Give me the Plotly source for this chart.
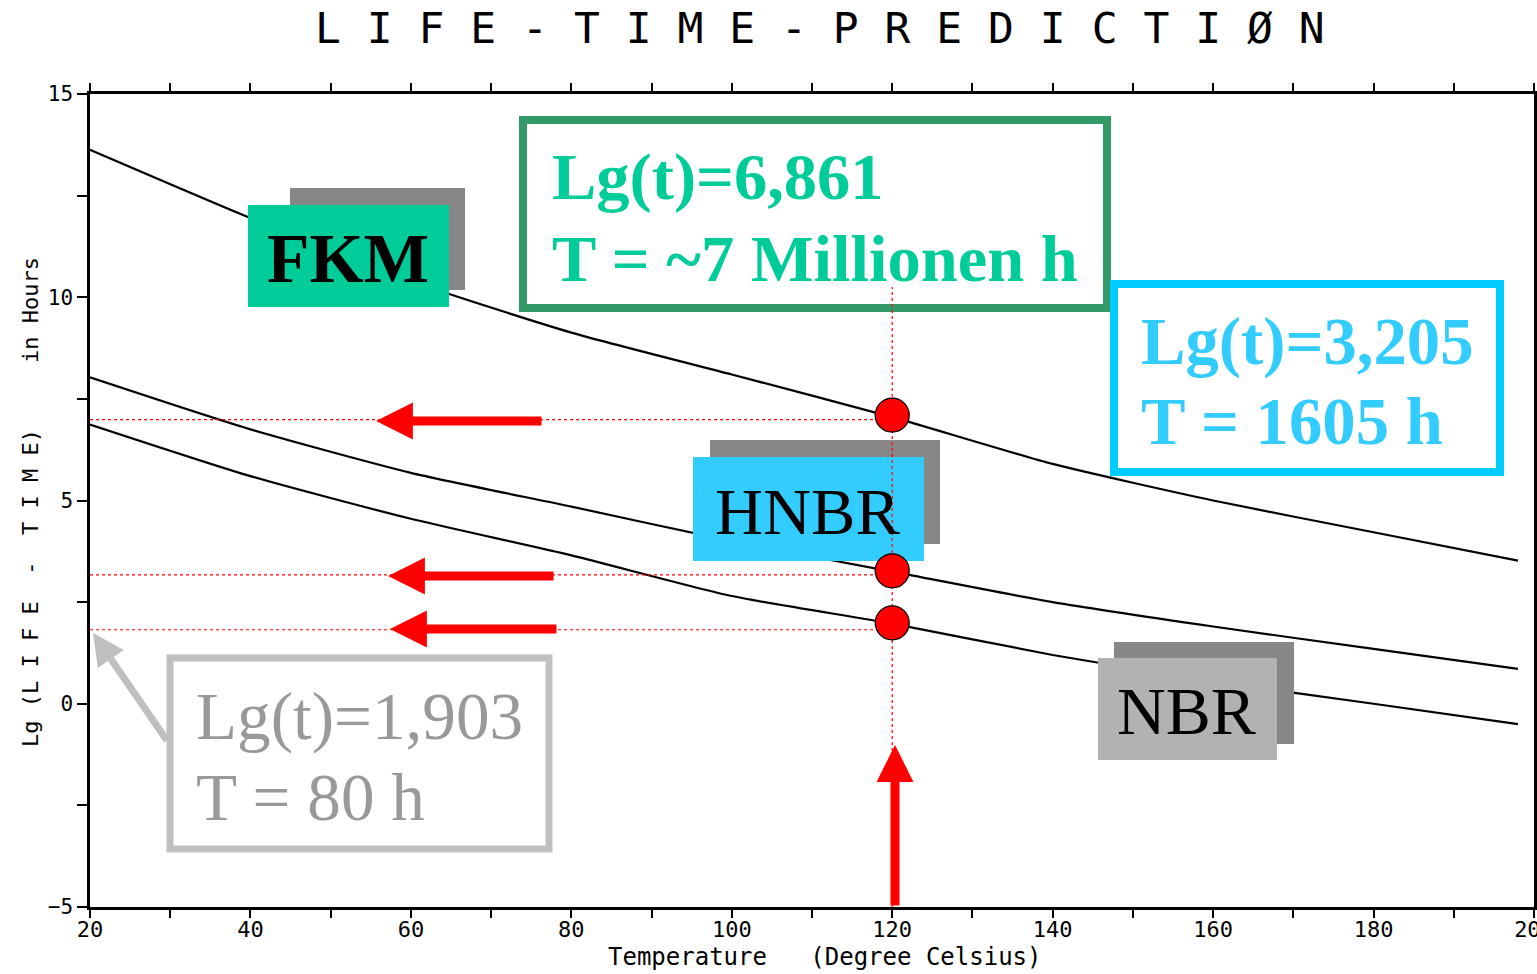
import plotly.graph_objects as go

# ---------------- data ----------------
temperature = [20, 40, 60, 80, 100, 120, 140, 160, 180, 198]
lg_fkm = [13.63, 11.95, 10.40, 9.13, 8.10, 7.05, 5.90, 5.00, 4.22, 3.52]
lg_hnbr = [8.03, 6.75, 5.68, 4.85, 4.00, 3.25, 2.50, 1.90, 1.35, 0.86]
lg_nbr = [6.87, 5.60, 4.55, 3.65, 2.65, 1.97, 1.20, 0.55, 0.00, -0.50]

marked_temperature = 120
marked_dots = [7.10, 3.27, 1.99]        # red dots on the curves at 120 °C
marked_levels = [6.99, 3.17, 1.82]      # dotted guide lines to the y axis

x_tick_vals = list(range(20, 201, 10))
x_tick_text = ["20", "", "40", "", "60", "", "80", "", "100", "", "120", "",
               "140", "", "160", "", "180", "", "200"]
y_tick_vals = [-5, -2.5, 0, 2.5, 5, 7.5, 10, 12.5, 15]
y_tick_text = ["\u22125", "", "0", "", "5", "", "10", "", "15"]

title_text = "L I F E - T I M E - P R E D I C T I \u00d8 N"
x_title = "Temperature   (Degree Celsius)"
y_title = "Lg (L I F E  -  T I M E)     in Hours"

# ---------------- layout helpers (pixel -> axis coords) ----------------
W, H = 1537, 974
L, R, T, B = 90, 1534, 94, 907
X0, X1, Y0, Y1 = 20, 200, -5, 15


def X(px):
    return X0 + (px - L) * (X1 - X0) / (R - L)


def Y(py):
    return Y1 - (py - T) * (Y1 - Y0) / (B - T)


SERIF = "Liberation Serif"
MONO = "DejaVu Sans Mono"

fig = go.Figure()

for ys in (lg_fkm, lg_hnbr, lg_nbr):
    fig.add_trace(go.Scatter(x=temperature, y=ys, mode="lines",
                             line=dict(color="black", width=2.2,
                                       shape="spline", smoothing=0.6),
                             hoverinfo="skip", showlegend=False))

shapes = []


def rect(x0, y0, x1, y1, fill=None, line_color=None, lw=0):
    d = dict(type="rect", xref="x", yref="y", layer="above",
             x0=X(x0), x1=X(x1), y0=Y(y0), y1=Y(y1))
    d["fillcolor"] = fill if fill else "rgba(0,0,0,0)"
    d["line"] = dict(color=line_color, width=lw) if line_color else dict(width=0)
    shapes.append(d)


# label tags with shadow
rect(290, 188, 465, 290, fill="#878787")
rect(248, 205, 449, 307, fill="#00CC99")
rect(710, 440, 940, 544, fill="#878787")
rect(693, 457, 924, 561, fill="#33CCFF")
rect(1114, 642, 1294, 744, fill="#878787")
rect(1098, 658, 1277, 760, fill="#B2B2B2")

# outlined info boxes
rect(523, 120, 1107, 308, line_color="#339966", lw=8)
rect(1114, 284, 1500, 472, line_color="#00CCFF", lw=8)
rect(170, 658, 549, 849, line_color="#C0C0C0", lw=7)

# red dotted guide lines
for lv in marked_levels:
    shapes.append(dict(type="line", xref="x", yref="y", layer="above",
                       x0=X0, x1=marked_temperature, y0=lv, y1=lv,
                       line=dict(color="red", width=1.2, dash="dot")))
shapes.append(dict(type="line", xref="x", yref="y", layer="above",
                   x0=marked_temperature, x1=marked_temperature,
                   y0=Y0, y1=Y(287),
                   line=dict(color="red", width=1.2, dash="dot")))

# red dots
for v in marked_dots:
    shapes.append(dict(type="circle", xref="x", yref="y", layer="above",
                       xsizemode="pixel", ysizemode="pixel",
                       xanchor=marked_temperature, yanchor=v,
                       x0=-17, x1=17, y0=-17, y1=17,
                       fillcolor="red", line=dict(color="black", width=1.3)))

annotations = []


def text(px, py, s, size, color, bold=False, anchor="center"):
    annotations.append(dict(
        x=X(px), y=Y(py), xref="x", yref="y", showarrow=False,
        text=("<b>%s</b>" % s) if bold else s,
        xanchor=anchor, yanchor="middle",
        font=dict(family=SERIF, size=size, color=color)))


text(348, 258, "FKM", 69.5, "black", bold=True)
text(807, 511, "HNBR", 66.5, "black")
text(1186, 711, "NBR", 67.5, "black")

text(550, 177, "Lg(t)=6,861", 66.5, "#00CC99", bold=True, anchor="left")
text(550, 258, "T = ~7 Millionen h", 66.5, "#00CC99", bold=True, anchor="left")
text(1139, 342, "Lg(t)=3,205", 66.7, "#33CCFF", bold=True, anchor="left")
text(1139, 421, "T = 1605 h", 66.7, "#33CCFF", bold=True, anchor="left")
text(194, 716, "Lg(t)=1,903", 67.2, "#999999", anchor="left")
text(194, 797, "T = 80 h", 67.2, "#999999", anchor="left")


def arrow(tip, tail, color, width, size):
    annotations.append(dict(
        x=X(tip[0]), y=Y(tip[1]), ax=X(tail[0]), ay=Y(tail[1]),
        xref="x", yref="y", axref="x", ayref="y", text="",
        showarrow=True, arrowhead=2, arrowsize=size, arrowwidth=width,
        arrowcolor=color, standoff=0))


arrow((376, 421), (543, 421), "red", 9, 0.82)
arrow((388, 576), (555, 576), "red", 9, 0.82)
arrow((390, 629), (558, 629), "red", 9, 0.82)
arrow((895, 745), (895, 907), "red", 9, 0.82)
arrow((93, 633), (168, 742), "#BFBFBF", 7, 0.9)

# titles
annotations.append(dict(x=(820 - L) / (R - L), y=(B - 28) / (B - T),
                        xref="paper", yref="paper", showarrow=False,
                        text=title_text, xanchor="center", yanchor="middle",
                        font=dict(family=MONO, size=43, color="black")))
annotations.append(dict(x=(824 - L) / (R - L), y=(B - 957) / (B - T),
                        xref="paper", yref="paper", showarrow=False,
                        text=x_title, xanchor="center", yanchor="middle",
                        font=dict(family=MONO, size=24, color="black")))
annotations.append(dict(x=(30 - L) / (R - L), y=(B - 502) / (B - T),
                        xref="paper", yref="paper", showarrow=False,
                        text=y_title, textangle=-90,
                        xanchor="center", yanchor="middle",
                        font=dict(family=MONO, size=22, color="black")))

fig.update_layout(
    width=W, height=H,
    margin=dict(l=L, r=W - R, t=T, b=H - B, pad=0, autoexpand=False),
    paper_bgcolor="white", plot_bgcolor="white",
    showlegend=False,
    shapes=shapes, annotations=annotations,
    xaxis=dict(range=[X0, X1], tickmode="array", tickvals=x_tick_vals,
               ticktext=x_tick_text, ticks="outside", ticklen=8,
               tickwidth=2, tickcolor="black", showline=True,
               linecolor="black", linewidth=2.5, mirror="ticks",
               showgrid=False, zeroline=False, ticklabeloverflow="allow",
               automargin=False, ticklabelstandoff=-7,
               tickfont=dict(family=MONO, size=22, color="black")),
    yaxis=dict(range=[Y0, Y1], tickmode="array", tickvals=y_tick_vals,
               ticktext=y_tick_text, ticks="outside", ticklen=10,
               tickwidth=2, tickcolor="black", showline=True,
               linecolor="black", linewidth=2.5, mirror=True,
               showgrid=False, zeroline=False, automargin=False,
               tickfont=dict(family=MONO, size=21, color="black")),
)

post = ("document.body.style.margin='0';"
        "document.body.style.overflow='hidden';"
        "var gd=document.getElementsByClassName('plotly-graph-div')[0];"
        "if(gd){Plotly.relayout(gd,{width:%d,height:%d});}" % (W, H))

fig.write_html("out.html", post_script=post,
               config={"displayModeBar": False})
